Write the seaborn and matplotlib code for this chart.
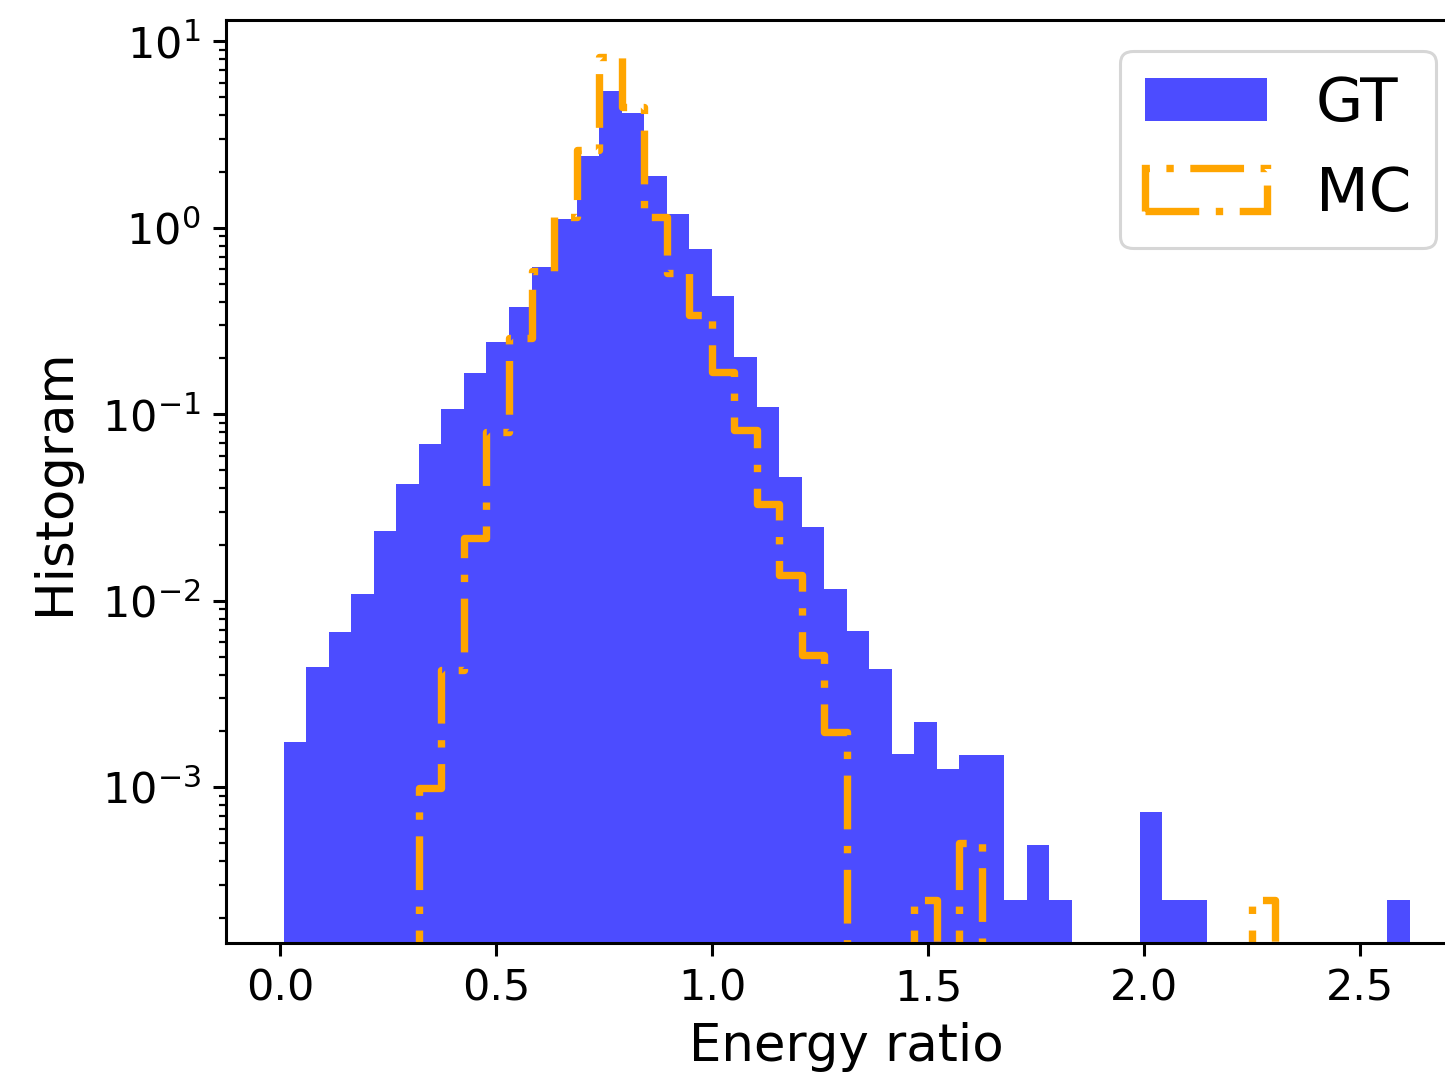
import numpy as np
import pandas as pd
import matplotlib
matplotlib.use("Agg")
import matplotlib.pyplot as plt
from matplotlib.patches import Patch
import seaborn as sns

# ---- data -------------------------------------------------------------
# 50 equal-width bins spanning the observed energy-ratio range
bin_lo = 0.0083
bin_hi = 2.6154
n_bins = 50

# normalised histogram heights (density) per bin
gt_density = [
    1.75e-3, 4.41e-3, 6.82e-3, 1.086e-2, 2.36e-2, 4.22e-2, 6.92e-2, 0.1066,
    0.1657, 0.2447, 0.3771, 0.6178, 1.113, 2.424, 5.41, 4.106,
    1.893, 1.184, 0.7687, 0.4303, 0.2039, 0.1097, 0.04624, 0.02493,
    0.01153, 6.85e-3, 4.30e-3, 1.506e-3, 2.24e-3, 1.247e-3, 1.494e-3, 1.494e-3,
    2.48e-4, 4.90e-4, 2.48e-4, 0, 0, 0, 7.33e-4, 2.48e-4,
    2.48e-4, 0, 0, 0, 0, 0, 0, 0, 0, 2.48e-4,
]
mc_density = [
    0, 0, 0, 0, 0, 0, 9.9e-4, 4.25e-3,
    0.0217, 0.0803, 0.256, 0.586, 1.14, 2.61, 8.18, 4.44,
    1.14, 0.569, 0.340, 0.168, 0.0822, 0.033, 0.0137, 5.11e-3,
    1.97e-3, 0, 0, 0, 2.48e-4, 0, 5.0e-4, 0,
    0, 0, 0, 0, 0, 0, 0, 0,
    0, 0, 0, 2.48e-4, 0, 0, 0, 0, 0, 0,
]
series_labels = ["GT", "MC"]
x_label = "Energy ratio"
y_label = "Histogram"

# ---- build -------------------------------------------------------------
edges = np.linspace(bin_lo, bin_hi, n_bins + 1)
centers = 0.5 * (edges[:-1] + edges[1:])
bin_list = [float(e) for e in edges]

fig = plt.figure(figsize=(14.45, 10.77), dpi=100)
ax = fig.add_axes([0.1564, 0.1247, 0.8583, 0.8567])

sns.histplot(x=centers, weights=np.asarray(gt_density, float), bins=bin_list,
             stat="count", color="blue", alpha=0.7, edgecolor="none",
             linewidth=0, ax=ax)

mc_lw = 5.3
mc_ls = (0, (7.3, 2.25, 1.0, 2.25))
sns.histplot(x=centers, weights=np.asarray(mc_density, float), bins=bin_list,
             stat="count", element="step", fill=False, color="orange",
             linestyle=mc_ls, linewidth=mc_lw, ax=ax)

ax.set_yscale("log")
ax.set_ylim(1.466e-4, 12.99)
ax.set_xlim(-0.1255, 2.746)

ax.set_xlabel(x_label, fontsize=37, labelpad=9)
ax.set_ylabel(y_label, fontsize=37, labelpad=16)

ax.tick_params(axis="both", which="major", labelsize=31, length=9.1,
               width=2.2, pad=9)
ax.tick_params(axis="both", which="minor", length=5.3, width=1.6)
for sp in ax.spines.values():
    sp.set_linewidth(2.2)

handles = [
    Patch(facecolor="blue", alpha=0.7, edgecolor="none", label=series_labels[0]),
    Patch(facecolor="none", edgecolor="orange", linestyle=mc_ls,
          linewidth=mc_lw, label=series_labels[1]),
]
leg = ax.legend(handles=handles, loc="upper right", fontsize=44)
leg.get_frame().set_linewidth(2.2)

fig.savefig("out.png", dpi=100)
